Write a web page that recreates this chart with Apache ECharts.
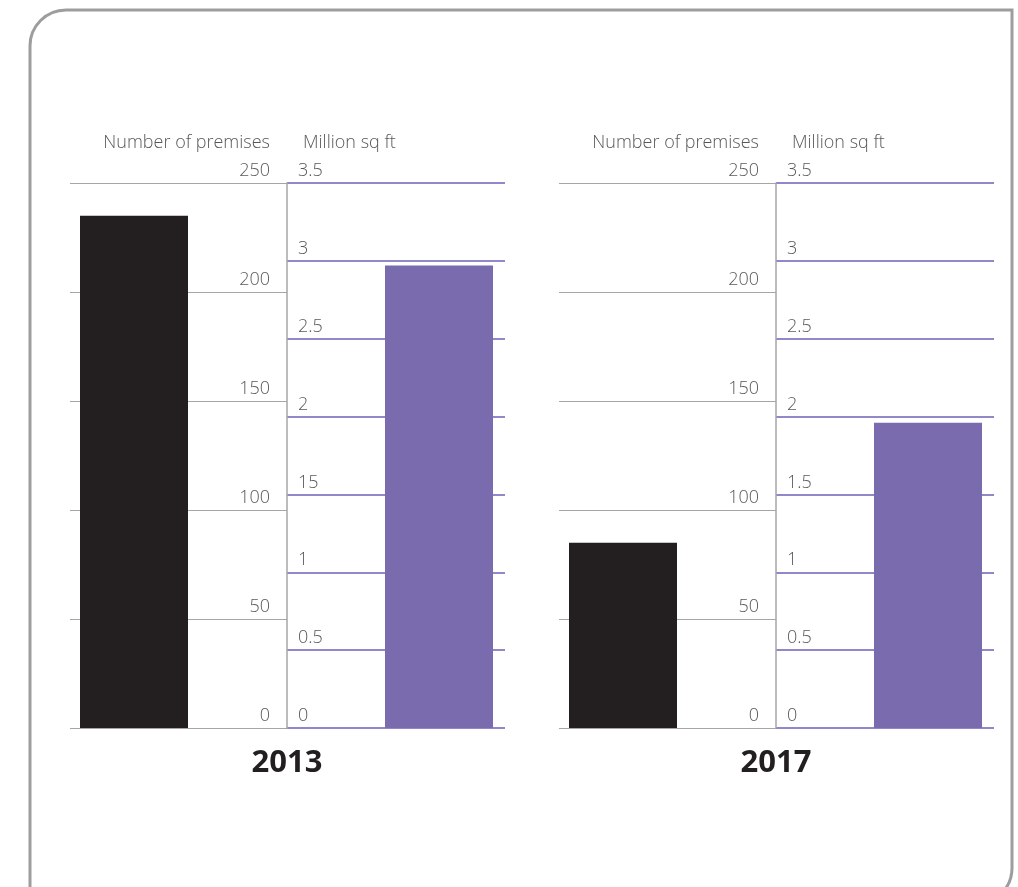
<!DOCTYPE html>
<html>
<head>
<meta charset="utf-8">
<script src="https://cdn.jsdelivr.net/npm/echarts@6/dist/echarts.min.js"></script>
<style>
html,body{margin:0;padding:0;background:#fff;}
#chart{width:1018px;height:887px;}
</style>
</head>
<body>
<div id="chart"></div>
<script>
// ---- data ----
var years = ['2013', '2017'];
var premises = [235, 85];          // Number of premises
var sqft = [2.97, 1.96];           // Million sq ft
var premisesTicks = ['0', '50', '100', '150', '200', '250'];
var sqftTicks2013 = ['0', '0.5', '1', '15', '2', '2.5', '3', '3.5'];
var sqftTicks2017 = ['0', '0.5', '1', '1.5', '2', '2.5', '3', '3.5'];
var sqftTickSets = [sqftTicks2013, sqftTicks2017];
var leftTitle = 'Number of premises';
var rightTitle = 'Million sq ft';

// ---- styles ----
var FONT = '"Open Sans"';
var LABEL_COLOR = '#58585a';
var BLACK = '#231f20';
var PURPLE = '#7a6baf';
var PURPLE_LINE = '#6c62b4';
var GRAY_LINE = '#a6a6a8';
var TOP = 183, H = 545;

var grid = [], xAxis = [], yAxis = [], series = [], graphic = [];

graphic.push({
  type: 'rect', shape: {x: 30, y: 10, width: 982, height: 894, r: [36, 0, 36, 0]},
  style: {fill: 'none', stroke: '#9d9d9f', lineWidth: 3}, z: -1
});

years.forEach(function (yr, p) {
  var dx = p * 489;
  var base = grid.length;
  grid.push({left: 70 + dx, width: 217, top: TOP, height: H});   // premises lines
  grid.push({left: 287 + dx, width: 218, top: TOP, height: H});  // sq ft lines
  grid.push({left: 80 + dx, width: 108, top: TOP, height: H});   // black bar
  grid.push({left: 385 + dx, width: 108, top: TOP, height: H});  // purple bar
  for (var g = 0; g < 4; g++) {
    xAxis.push({type: 'category', gridIndex: base + g, data: [yr], show: false});
  }
  var ticks = sqftTickSets[p];
  // premises axis
  yAxis.push({
    type: 'value', gridIndex: base, min: 0, max: 250, interval: 50, position: 'right',
    axisLine: {show: true, lineStyle: {color: GRAY_LINE, width: 1.5}},
    axisTick: {show: false},
    splitLine: {show: true, lineStyle: {color: GRAY_LINE, width: 1}},
    axisLabel: {
      inside: true, margin: 17, color: LABEL_COLOR, fontFamily: FONT, fontSize: 18, fontWeight: 300,
      verticalAlign: 'bottom', padding: [0, 0, 3, 0], align: 'right',
      formatter: function (v) { return premisesTicks[Math.round(v / 50)]; }
    }
  });
  // sq ft axis
  yAxis.push({
    type: 'value', gridIndex: base + 1, min: 0, max: 3.5, interval: 0.5, position: 'left',
    axisLine: {show: false}, axisTick: {show: false},
    splitLine: {show: true, lineStyle: {color: PURPLE_LINE, width: 1.5}},
    axisLabel: {
      inside: true, margin: 11, color: LABEL_COLOR, fontFamily: FONT, fontSize: 18, fontWeight: 300,
      verticalAlign: 'bottom', padding: [0, 0, 3, 0], align: 'left',
      formatter: (function (t) { return function (v) { return t[Math.round(v / 0.5)]; }; })(ticks)
    }
  });
  yAxis.push({type: 'value', gridIndex: base + 2, min: 0, max: 250, show: false, splitLine: {show: false}});
  yAxis.push({type: 'value', gridIndex: base + 3, min: 0, max: 3.5, show: false, splitLine: {show: false}});

  series.push({
    type: 'bar', name: leftTitle, xAxisIndex: base + 2, yAxisIndex: base + 2,
    data: [premises[p]], barWidth: '100%', itemStyle: {color: BLACK}, z: 5, silent: true
  });
  series.push({
    type: 'bar', name: rightTitle, xAxisIndex: base + 3, yAxisIndex: base + 3,
    data: [sqft[p]], barWidth: '100%', itemStyle: {color: PURPLE}, z: 5, silent: true
  });

  graphic.push({
    type: 'text', x: 270 + dx, y: 143,
    style: {text: leftTitle, fill: LABEL_COLOR, font: '300 18px ' + FONT, align: 'right', verticalAlign: 'middle'}
  });
  graphic.push({
    type: 'text', x: 303 + dx, y: 143,
    style: {text: rightTitle, fill: LABEL_COLOR, font: '300 18px ' + FONT, align: 'left', verticalAlign: 'middle'}
  });
  graphic.push({
    type: 'text', x: 287 + dx, y: 763,
    style: {text: yr, fill: BLACK, font: '700 31px ' + FONT, align: 'center', verticalAlign: 'middle'}
  });
});

var chart = echarts.init(document.getElementById('chart'), null, {renderer: 'canvas'});
chart.setOption({
  animation: false,
  backgroundColor: '#ffffff',
  grid: grid, xAxis: xAxis, yAxis: yAxis, series: series, graphic: graphic
});
</script>
</body>
</html>
